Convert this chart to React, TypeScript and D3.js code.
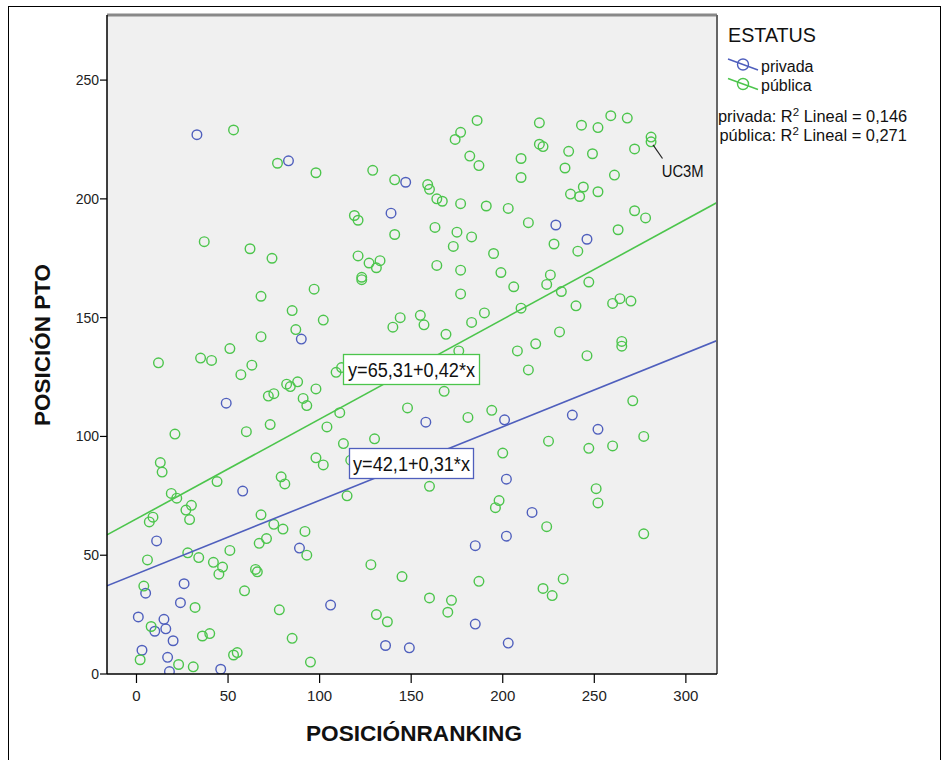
import React from "react";
import * as d3 from "d3";

const privada: [number, number][] = [
  [33, 227], [83, 216], [147, 207], [139, 194], [229, 189], [246, 183], [90, 141], [49, 114],
  [158, 106], [201, 107], [238, 109], [252, 103], [58, 77], [11, 56], [89, 53], [5, 34],
  [26, 38], [24, 30], [1, 24], [15, 23], [10, 18], [16, 19], [20, 14], [3, 10], [17, 7],
  [18, 1], [46, 2], [202, 82], [202, 58], [185, 54], [106, 29], [185, 21], [136, 12],
  [149, 11], [203, 13], [216, 68],
];

const publica: [number, number][] = [
  [53, 229], [77, 215], [37, 182], [98, 211], [129, 212], [141, 208], [159, 206], [160, 204],
  [164, 200], [167, 199], [177, 198], [191, 197], [203, 196], [186, 233], [177, 228], [174, 225],
  [182, 218], [187, 214], [119, 193], [121, 191], [141, 185], [163, 188], [175, 186], [183, 184],
  [220, 232], [243, 231], [252, 230], [259, 235], [268, 234], [281, 226], [281, 224], [220, 223],
  [222, 222], [210, 217], [236, 220], [249, 219], [272, 221], [210, 209], [234, 213], [261, 210],
  [244, 205], [237, 202], [242, 201], [252, 203], [214, 190], [272, 195], [278, 192], [263, 187],
  [62, 179], [74, 175], [68, 159], [85, 153], [87, 145], [68, 142], [51, 137], [35, 133],
  [41, 132], [12, 131], [63, 130], [57, 126], [82, 122], [84, 121], [88, 123], [72, 117],
  [75, 118], [91, 116], [93, 113], [73, 105], [60, 102], [21, 101],
  [121, 176], [127, 173], [133, 174], [131, 171], [123, 167], [123, 166], [173, 180], [164, 172],
  [177, 170], [195, 177], [199, 169], [177, 160], [97, 162], [102, 149], [144, 150], [140, 146],
  [155, 151], [157, 147], [169, 143], [183, 148], [190, 152], [176, 136], [109, 127], [112, 129],
  [98, 120], [168, 119], [111, 110], [148, 112], [181, 108], [194, 111], [104, 104], [113, 97],
  [130, 99], [98, 91], [200, 93],
  [228, 181], [241, 178], [206, 163], [226, 168], [224, 164], [232, 161], [247, 165], [210, 154],
  [240, 155], [260, 156], [264, 158], [270, 157], [231, 144], [218, 139], [208, 136], [265, 140],
  [265, 138], [246, 134], [214, 128], [271, 115], [225, 98], [247, 95], [260, 96], [277, 100],
  [13, 89], [14, 85], [44, 81], [79, 83], [81, 80], [19, 76], [22, 74], [30, 71], [27, 69],
  [29, 65], [9, 66], [7, 64], [68, 67], [75, 63], [80, 61], [92, 60], [71, 57], [67, 55],
  [93, 50], [51, 52], [28, 51], [34, 49], [6, 48], [42, 47], [47, 45], [45, 42], [65, 44],
  [66, 43], [4, 37], [59, 35], [32, 28], [78, 27], [8, 20], [36, 16], [40, 17], [85, 15],
  [2, 6], [23, 4], [31, 3], [53, 8], [55, 9], [95, 5],
  [102, 88], [117, 90], [115, 75], [160, 79], [198, 73], [196, 70], [128, 46], [145, 41],
  [187, 39], [160, 32], [172, 31], [170, 26], [131, 25], [137, 22],
  [224, 62], [251, 78], [252, 72], [277, 59], [233, 40], [222, 36], [227, 33],
];

const xTicks = [0, 50, 100, 150, 200, 250, 300];
const yTicks = [0, 50, 100, 150, 200, 250];

// regression fits: [intercept, slope]
const fitPublica: [number, number] = [65.31, 0.42];
const fitPrivada: [number, number] = [42.1, 0.31];

const labelPublica = "y=65,31+0,42*x";
const labelPrivada = "y=42,1+0,31*x";
const legendTitle = "ESTATUS";
const legendNames = ["privada", "pública"];
const r2Values = ["0,146", "0,271"];

const BLUE = "#4f5fbd";
const GREEN = "#4cc54c";
const FONT = "'Liberation Sans', Arial, sans-serif";

export default function App() {
  const L = 107, R = 717, T = 15, B = 674;
  const x = d3.scaleLinear().domain([-16.1, 317]).range([L, R]);
  const y = d3.scaleLinear().domain([0, 277.4]).range([B, T]);
  const line = d3.line<[number, number]>().x((d) => x(d[0])).y((d) => y(d[1]));
  const fitPts = (f: [number, number]): [number, number][] =>
    x.domain().map((v) => [v, f[0] + f[1] * v] as [number, number]);

  return (
    <svg width={944} height={760} style={{ display: "block", position: "absolute", left: 0, top: 0 }}
      fontFamily={FONT}>
      <rect x={0} y={0} width={944} height={760} fill="#fff" />
      <rect x={8.5} y={6.5} width={932} height={760} fill="none" stroke="#000" strokeWidth={1} />
      <rect x={L} y={T} width={R - L} height={B - T} fill="#f0f0f0" stroke="none" />
      <clipPath id="plotclip">
        <rect x={L} y={T} width={R - L} height={B - T} />
      </clipPath>
      <g clipPath="url(#plotclip)">
        {privada.map((d, i) => (
          <circle key={"b" + i} cx={x(d[0])} cy={y(d[1])} r={4.8} fill="none" stroke={BLUE} strokeWidth={1.4} />
        ))}
        {publica.map((d, i) => (
          <circle key={"g" + i} cx={x(d[0])} cy={y(d[1])} r={4.8} fill="none" stroke={GREEN} strokeWidth={1.4} />
        ))}
        <path d={line(fitPts(fitPublica)) || ""} stroke={GREEN} strokeWidth={1.6} fill="none" />
        <path d={line(fitPts(fitPrivada)) || ""} stroke={BLUE} strokeWidth={1.6} fill="none" />
      </g>
      {/* frame */}
      <line x1={L} y1={T} x2={R} y2={T} stroke="#888" strokeWidth={3} />
      <line x1={R} y1={T} x2={R} y2={B} stroke="#666" strokeWidth={2} />
      <line x1={L} y1={T} x2={L} y2={B} stroke="#000" strokeWidth={1.5} />
      <line x1={L} y1={B} x2={R} y2={B} stroke="#000" strokeWidth={1.5} />
      {/* y axis */}
      {yTicks.map((t) => (
        <g key={"yt" + t}>
          <line x1={L - 7} x2={L} y1={y(t)} y2={y(t)} stroke="#000" strokeWidth={1.2} />
          <text x={L - 8} y={y(t) + 5} textAnchor="end" fontSize={14} fill="#222">{t}</text>
        </g>
      ))}
      {/* x axis */}
      {xTicks.map((t) => (
        <g key={"xt" + t}>
          <line x1={x(t)} x2={x(t)} y1={B} y2={B + 9} stroke="#000" strokeWidth={1.2} />
          <text x={x(t)} y={701} textAnchor="middle" fontSize={15} fill="#222">{t}</text>
        </g>
      ))}
      <text x={414} y={741} textAnchor="middle" fontSize={22} fontWeight="bold" textLength={216}
        lengthAdjust="spacingAndGlyphs" fill="#111">POSICIÓNRANKING</text>
      <text transform="translate(50,345) rotate(-90)" textAnchor="middle" fontSize={22} fontWeight="bold"
        textLength={162} lengthAdjust="spacingAndGlyphs" fill="#111">POSICIÓN PTO</text>
      {/* fit labels */}
      <rect x={343.5} y={354.5} width={136} height={30} fill="#fff" stroke={GREEN} strokeWidth={1.3} />
      <text x={348} y={377} fontSize={20} textLength={127} lengthAdjust="spacingAndGlyphs" fill="#111">{labelPublica}</text>
      <rect x={349.5} y={448.5} width={124} height={30} fill="#fff" stroke={BLUE} strokeWidth={1.3} />
      <text x={353} y={471} fontSize={20} textLength={117} lengthAdjust="spacingAndGlyphs" fill="#111">{labelPrivada}</text>
      {/* UC3M annotation */}
      <line x1={x(281) + 2} y1={y(224) + 3} x2={662.5} y2={158.5} stroke="#222" strokeWidth={1.2} />
      <text x={661.7} y={177} fontSize={16} textLength={42} lengthAdjust="spacingAndGlyphs" fill="#111">UC3M</text>
      {/* legend */}
      <text x={728} y={42} fontSize={20} textLength={88} lengthAdjust="spacingAndGlyphs" fill="#111">{legendTitle}</text>
      {[BLUE, GREEN].map((c, i) => (
        <g key={"lg" + i}>
          <line x1={728} y1={59 + i * 19.5} x2={758} y2={70 + i * 19.5} stroke={c} strokeWidth={1.4} />
          <circle cx={743} cy={64.5 + i * 19.5} r={5.5} fill="none" stroke={c} strokeWidth={1.4} />
          <text x={761} y={71.5 + i * 19.5} fontSize={16} fill="#111">{legendNames[i]}</text>
        </g>
      ))}
      {legendNames.map((n, i) => (
        <text key={"r2" + i} x={i === 0 ? 718 : 719.5} y={121.5 + i * 19.5} fontSize={16.4} fill="#111">
          {n}: R<tspan dy={-6} fontSize={11.5}>2</tspan><tspan dy={6}> Lineal = {r2Values[i]}</tspan>
        </text>
      ))}
    </svg>
  );
}
